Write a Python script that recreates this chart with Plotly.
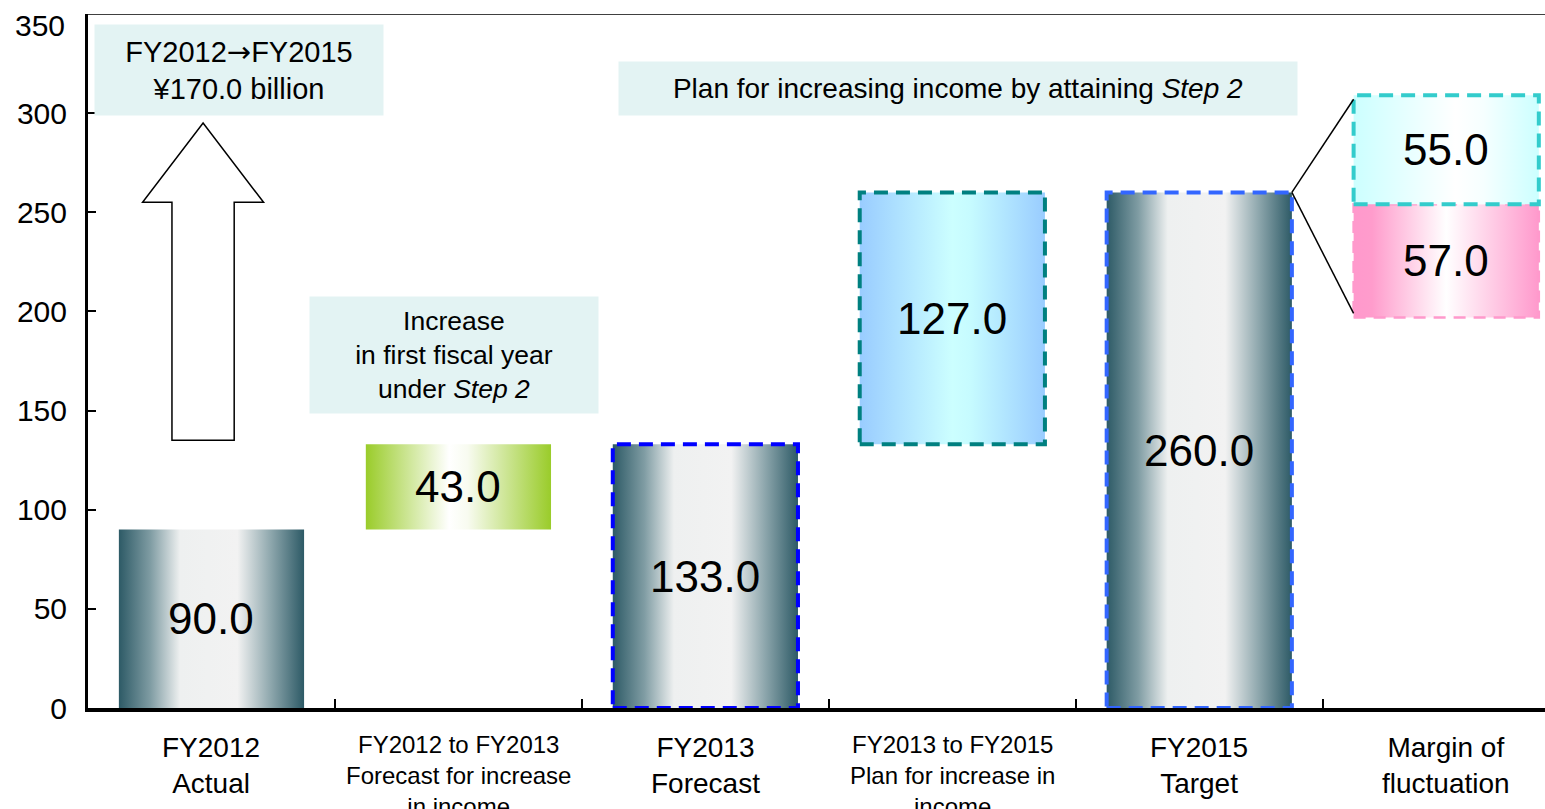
import plotly.graph_objects as go

# ---------------- data ----------------
categories = ["FY2012<br>Actual",
              "FY2012 to FY2013<br>Forecast for increase<br>in income",
              "FY2013<br>Forecast",
              "FY2013 to FY2015<br>Plan for increase in<br>income",
              "FY2015<br>Target",
              "Margin of<br>fluctuation"]
label_small = [False, True, False, True, False, False]

bar_values = [90.0, 43.0, 133.0, 127.0, 260.0]
bar_bases = [0.0, 90.0, 0.0, 133.0, 0.0]

margin_values = [57.0, 55.0]      # lower (pink), upper (cyan)
margin_base = 197.0

y_ticks = [0, 50, 100, 150, 200, 250, 300, 350]

# ---------------- styles ----------------
FONT = "Liberation Sans, Arial, sans-serif"
dark = [[0, "#2d5a66"], [0.17, "#7f9ca3"], [0.33, "#eef0f0"], [0.64, "#f2f2f2"],
        [0.82, "#8ea7ad"], [1, "#2d5a66"]]
green = [[0, "#9acc2a"], [0.45, "#ffffff"], [0.55, "#f8fbf0"], [1, "#9acc2a"]]
blue = [[0, "#99ccff"], [0.5, "#ccffff"], [0.6, "#c6fbff"], [1, "#99ccff"]]
cyan = [[0, "#ccffff"], [0.55, "#ffffff"], [0.7, "#f6ffff"], [1, "#ccffff"]]
pink = [[0, "#ff99cc"], [0.1, "#ff9ccc"], [0.5, "#ffffff"], [1, "#ff99cc"]]

bar_styles = [
    dict(scale=dark, line=None, dash=None, lw=0),
    dict(scale=green, line=None, dash=None, lw=0),
    dict(scale=dark, line="#0000ff", dash="14px,8px", lw=4),
    dict(scale=blue, line="#008080", dash="14px,8px", lw=4),
    dict(scale=dark, line="#3366ff", dash="14px,8px", lw=4),
]
margin_styles = [
    dict(scale=pink, line="#ff99cc", dash="12px,8px", lw=2.5),
    dict(scale=cyan, line="#33cccc", dash="14px,8px", lw=4),
]

W = 0.75
fig = go.Figure()


def add_box(xc, base, val, st):
    x0, x1 = xc - W / 2, xc + W / 2
    y0, y1 = base, base + val
    fig.add_trace(go.Scatter(
        x=[x0, x1, x1, x0, x0], y=[y0, y0, y1, y1, y0],
        mode="lines", fill="toself",
        fillgradient=dict(type="horizontal", colorscale=st["scale"]),
        line=dict(color=st["line"] or "rgba(0,0,0,0)", width=st["lw"] if st["lw"] else 0.1,
                  dash=st["dash"] or "solid"),
        hoverinfo="skip", showlegend=False, cliponaxis=False))
    fig.add_annotation(x=xc, y=base + val / 2, text=f"{val:.1f}", showarrow=False,
                       font=dict(family=FONT, size=44, color="black"))


for i, (v, b) in enumerate(zip(bar_values, bar_bases)):
    add_box(i, b, v, bar_styles[i])

mb = margin_base
for v, st in zip(margin_values, margin_styles):
    add_box(5, mb, v, st)
    mb += v

# connector lines from FY2015 top-right corner to margin boxes
top_y = bar_values[4]
fig.add_shape(type="line", x0=4 + W / 2, y0=top_y, x1=5 - W / 2, y1=mb - 2,
              line=dict(color="black", width=1.5))
fig.add_shape(type="line", x0=4 + W / 2, y0=top_y, x1=5 - W / 2, y1=margin_base + 2,
              line=dict(color="black", width=1.5))

# hollow up arrow
cx = -0.034
sh, hh = 0.126, 0.245
yb, yh, yt = 135, 255, 295
fig.add_shape(type="path",
              path=f"M {cx-sh} {yb} L {cx+sh} {yb} L {cx+sh} {yh} L {cx+hh} {yh} "
                   f"L {cx} {yt} L {cx-hh} {yh} L {cx-sh} {yh} Z",
              fillcolor="white", line=dict(color="black", width=1.5))

# text boxes
BOX = "#e3f3f3"
fig.add_annotation(x=0.111, y=321.7,
                   text="FY2012<span style='font-family:DejaVu Sans'>→</span>FY2015<br>¥170.0 billion",
                   showarrow=False, width=288, height=90, bgcolor=BOX, borderpad=0,
                   font=dict(family=FONT, size=29, color="black"))
fig.add_annotation(x=0.982, y=178, text="Increase<br>in first fiscal year<br>under <i>Step 2</i>",
                   showarrow=False, width=288, height=116, bgcolor=BOX, borderpad=0,
                   font=dict(family=FONT, size=26.5, color="black"))
fig.add_annotation(x=3.022, y=312.4, text="Plan for increasing income by attaining <i>Step 2</i>",
                   showarrow=False, width=678, height=53, bgcolor=BOX, borderpad=0,
                   font=dict(family=FONT, size=28, color="black"))

# category labels
for i, (lab, small) in enumerate(zip(categories, label_small)):
    fig.add_annotation(x=i, y=0, yanchor="top", yshift=-22 if not small else -21,
                       text=lab, showarrow=False,
                       font=dict(family=FONT, size=24 if small else 28, color="black"))

# top tick label (shifted below the border as in the original)
fig.add_annotation(x=0, xref="paper", xanchor="right", xshift=-21, y=350, yshift=-11,
                   text=str(y_ticks[-1]), showarrow=False,
                   font=dict(family=FONT, size=30, color="black"))

# top border line
fig.add_shape(type="line", xref="paper", yref="y", x0=0, x1=1, y0=350, y1=350,
              line=dict(color="black", width=1.5))

fig.update_layout(
    width=1545, height=809,
    margin=dict(l=88, r=0, t=14, b=101),
    paper_bgcolor="white", plot_bgcolor="white",
    showlegend=False,
    xaxis=dict(range=[-0.5, 5.4], showgrid=False, zeroline=False,
               showline=True, linecolor="black", linewidth=3.5,
               tickmode="array", tickvals=[0.5, 1.5, 2.5, 3.5, 4.5],
               ticks="inside", ticklen=9, tickwidth=2, tickcolor="black",
               showticklabels=False),
    yaxis=dict(range=[0, 350], showgrid=False, zeroline=False,
               showline=True, linecolor="black", linewidth=3,
               tickmode="array", tickvals=y_ticks,
               ticktext=[str(t) for t in y_ticks[:-1]] + [""],
               ticks="inside", ticklen=8, tickwidth=1.5, tickcolor="black",
               ticklabelstandoff=12,
               tickfont=dict(family=FONT, size=30, color="black")),
)

fig.write_html("out.html")
